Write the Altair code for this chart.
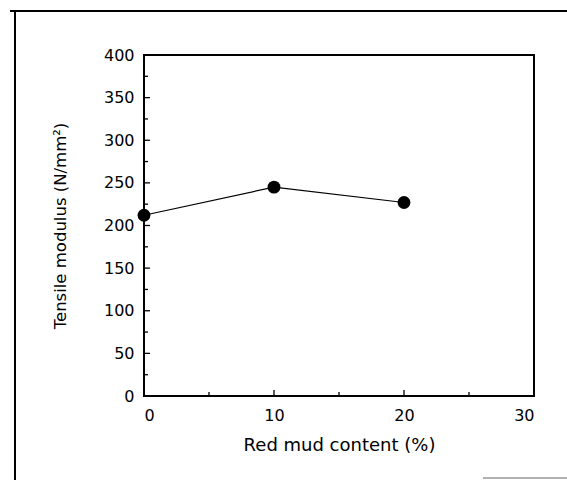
import altair as alt
import pandas as pd

content = [0, 10, 20]
modulus = [212, 245, 227]

y_major = [0, 50, 100, 150, 200, 250, 300, 350, 400]
y_minor = [25, 75, 125, 175, 225, 275, 325, 375]
x_major = [0, 10, 20, 30]
x_minor = [5, 15, 25]

FONT = "DejaVu Sans"
W, H = 390, 341

df = pd.DataFrame({"x": content, "y": modulus})
xs = alt.Scale(domain=[0, 30], nice=False, zero=False)
ys = alt.Scale(domain=[0, 400], nice=False)

xaxis = alt.Axis(values=x_major, format="d", labelPadding=11,
                 title="Red mud content (%)", titlePadding=13, titleFontSize=18)
yaxis = alt.Axis(values=y_major, format="d", labelPadding=10,
                 title="Tensile modulus (N/mm²)", titlePadding=35, titleFontSize=16.5)

line = alt.Chart(df).mark_line(color="black", strokeWidth=1.2).encode(
    x=alt.X("x:Q", scale=xs, axis=xaxis),
    y=alt.Y("y:Q", scale=ys, axis=yaxis),
)
pts = alt.Chart(df).mark_point(filled=True, color="black", size=165, opacity=1).encode(
    x=alt.X("x:Q", scale=xs, axis=xaxis), y=alt.Y("y:Q", scale=ys, axis=yaxis)
)

def yt(vals, ln):
    return alt.Chart(pd.DataFrame({"v": vals})).mark_rule(color="black", strokeWidth=1.3).encode(
        y=alt.Y("v:Q", scale=ys, axis=yaxis), x=alt.value(0), x2=alt.value(ln))

def xt(vals, ln):
    return alt.Chart(pd.DataFrame({"v": vals})).mark_rule(color="black", strokeWidth=1.3).encode(
        x=alt.X("v:Q", scale=xs, axis=xaxis), y=alt.value(H), y2=alt.value(H - ln))

frame_left = alt.Chart(pd.DataFrame({"a": [0]})).mark_rule(color="black", strokeWidth=2).encode(
    x=alt.value(-129), y=alt.value(-43), y2=alt.value(H + 84))
frame_top = alt.Chart(pd.DataFrame({"a": [0]})).mark_rule(color="black", strokeWidth=2).encode(
    x=alt.value(-134), x2=alt.value(W + 33), y=alt.value(-44))
scan_mark = alt.Chart(pd.DataFrame({"a": [0]})).mark_rule(color="#999999", strokeWidth=1.5).encode(
    x=alt.value(339), x2=alt.value(W + 33), y=alt.value(H + 82))

chart = alt.layer(
    line, pts,
    yt(y_major, 6), yt(y_minor, 4), xt(x_major, 6), xt(x_minor, 4),
    frame_left, frame_top, scan_mark,
).properties(
    width=W, height=H,
    autosize=alt.AutoSizeParams(type="none"),
    padding={"left": 144, "top": 55, "right": 33, "bottom": 84},
    background="white",
).configure_view(stroke="black", strokeWidth=2).configure_axis(
    ticks=False, domain=False, grid=False,
    labelFont=FONT, labelFontSize=16, labelColor="black",
    titleFont=FONT, titleFontWeight="normal", titleColor="black",
)

chart.save("out.html", embed_options={"renderer": "svg", "actions": False})
